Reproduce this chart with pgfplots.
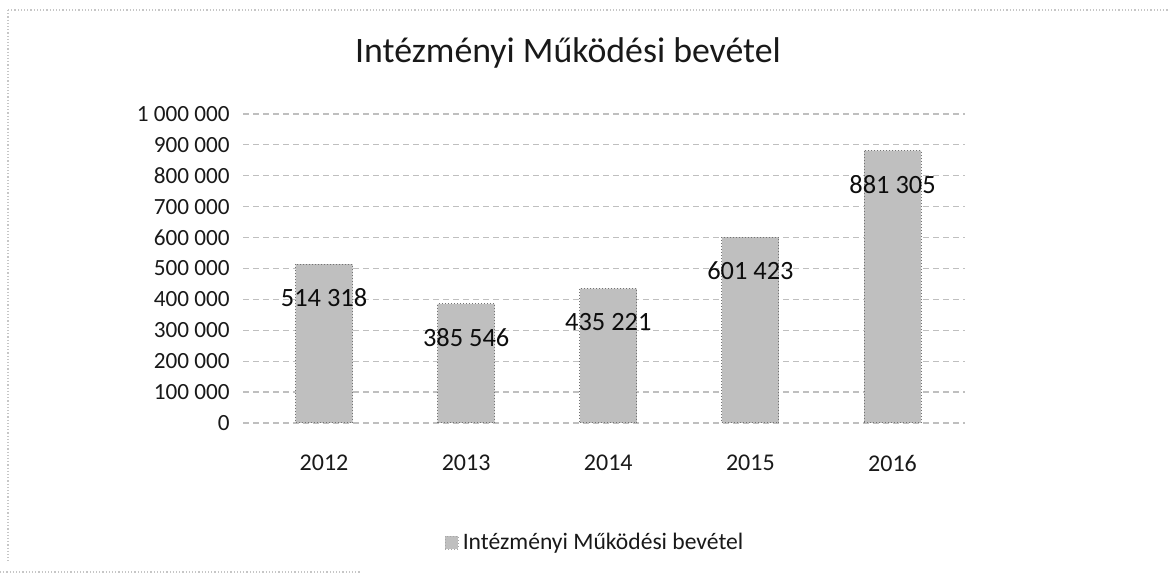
\documentclass[border=0pt]{standalone}
\usepackage{fontspec}
\setmainfont{Carlito}
\usepackage{pgfplots}
\pgfplotsset{compat=1.18}
\begin{document}
\begin{tikzpicture}
\path[use as bounding box] (0,0) rectangle (585pt,288.5pt);
\draw[gray!45, densely dotted, line width=0.6pt] (4pt,283.5pt) -- (585pt,283.5pt);
\draw[gray!45, densely dotted, line width=0.6pt] (4pt,283.5pt) -- (4pt,8pt);
\draw[gray!45, densely dotted, line width=0.6pt] (0pt,2.5pt) -- (180pt,2.5pt);
\node[anchor=base, font=\fontsize{17.9}{20}\selectfont, text=black!90] at (284pt,257pt) {Intézményi Működési bevétel};
\begin{axis}[
  at={(121.5pt,77pt)}, anchor=south west,
  scale only axis, width=361pt, height=154.5pt,
  xmin=-0.57, xmax=4.51, ymin=0, ymax=1000000,
  xtick={0,1,2,3,4}, xticklabels={2012,2013,2014,2015,2016},
  ytick={0,100000,...,1000000},
  scaled y ticks=false,
  /pgf/number format/assume math mode=true,
  /pgf/number format/.cd, fixed, precision=0, 1000 sep={~}, /pgfplots/.cd,
  axis line style={draw=none},
  major tick length=0pt,
  ymajorgrids, xmajorgrids=false,
  major grid style={gray!50, densely dashed, line width=0.6pt},
  yticklabel style={font=\fontsize{11.6}{13}\selectfont, text=black!90, inner sep=0pt, xshift=-6.5pt},
  xticklabel style={font=\fontsize{12}{14}\selectfont, text=black!90, inner sep=0pt, yshift=-16pt},
  legend style={at={(0.489,-0.388)}, anchor=center, draw=none, fill=none,
    font=\fontsize{11.8}{14}\selectfont, text=black!90},
  legend cell align=left,
  legend image code/.code={\draw[#1, draw=black!35, densely dotted] (0pt,-3.25pt) rectangle (6.5pt,3.25pt);},
]
\addplot[ybar, bar width=28.5pt, fill=black!25, draw=black!55, densely dotted, line width=0.5pt,
  nodes near coords,
  every node near coord/.append style={anchor=center, yshift=-17pt, font=\fontsize{13.2}{15}\selectfont, text=black!95, solid},
  point meta=y]
coordinates {(0,514318) (1,385546) (2,435221) (3,601423) (4,881305)};
\addlegendentry{Intézményi Működési bevétel}
\end{axis}
\end{tikzpicture}
\end{document}
